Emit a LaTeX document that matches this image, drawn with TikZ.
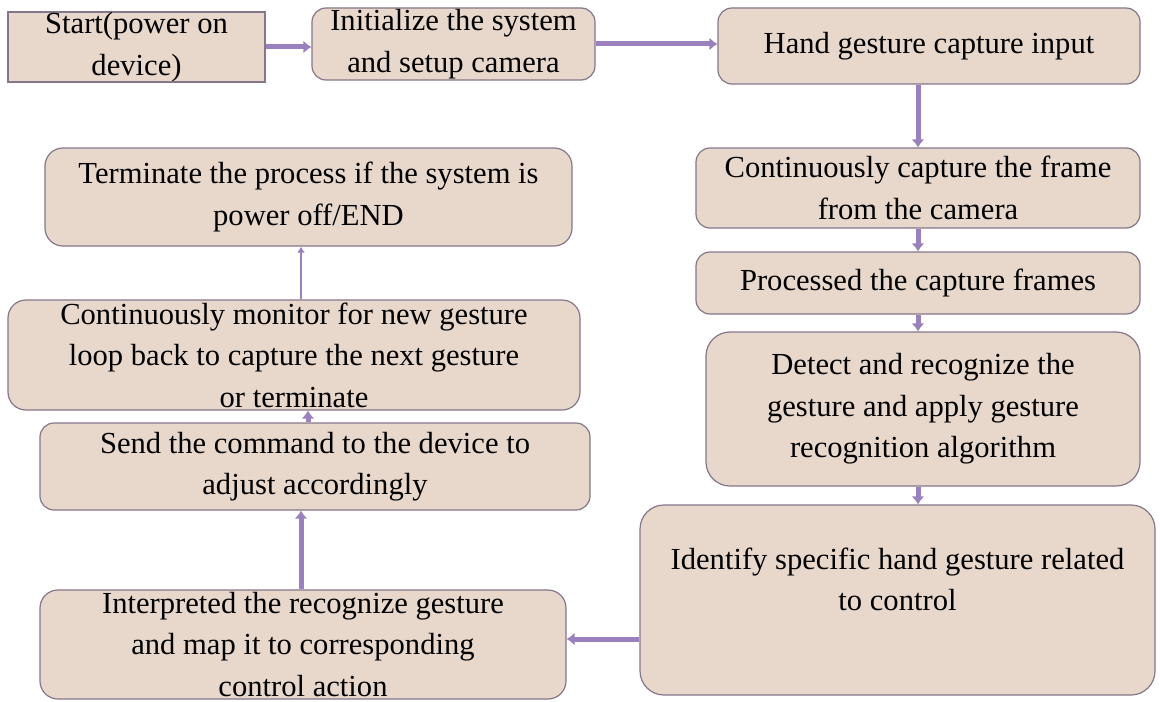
\documentclass[tikz,border=0pt]{standalone}
\usepackage{fontspec}
\setmainfont{Liberation Serif}
\usepackage{xcolor}
\usetikzlibrary{arrows.meta}

\definecolor{boxfill}{HTML}{E8D8CC}
\definecolor{boxline}{HTML}{857689}
\definecolor{flowpurple}{HTML}{9A80BD}

\begin{document}
\begin{tikzpicture}[x=0.5pt,y=-0.5pt]
\tikzset{stepbox/.style={draw=boxline,fill=boxfill,line width=0.6pt,rounded corners=7pt,align=center,inner xsep=2pt,inner ysep=0pt}}
\tikzset{flow/.style={draw=flowpurple,line width=2.5pt,-{Latex[length=4pt,width=6.5pt]}}}
\tikzset{thinflow/.style={draw=flowpurple,line width=1pt,-{Latex[length=3pt,width=4pt]}}}

\fontsize{15.3}{20.8}\selectfont

\useasboundingbox (0,0) rectangle (1160,701);

\node[stepbox,rounded corners=0pt,minimum width=128.5pt,minimum height=35pt] (start) at (136.5,47) {Start(power on\\ device)};
\node[stepbox,minimum width=141.5pt,minimum height=36pt] (init) at (453.5,44) {Initialize the system\\ and setup camera};
\node[stepbox,minimum width=211pt,minimum height=38pt] (hand) at (929,46) {Hand gesture capture input};
\node[stepbox,minimum width=222pt,minimum height=40pt] (cont) at (918,188) {Continuously capture the frame\\ from the camera};
\node[stepbox,minimum width=222pt,minimum height=31pt] (proc) at (918,283) {Processed the capture frames};
\node[stepbox,rounded corners=12pt,minimum width=217pt,minimum height=77pt] (detect) at (923,409) {Detect and recognize the\\ gesture and apply gesture\\ recognition algorithm};
\node[stepbox,rounded corners=12pt,minimum width=257.5pt,minimum height=95pt] (ident) at (897.5,600) {Identify specific hand gesture related\\ to control\\ \mbox{}};
\node[stepbox,rounded corners=9pt,minimum width=263pt,minimum height=54.5pt] (interp) at (303,644.5) {Interpreted the recognize gesture\\ and map it to corresponding\\ control action};
\node[stepbox,minimum width=275pt,minimum height=43.5pt] (send) at (315,466.5) {Send the command to the device to\\ adjust accordingly};
\node[stepbox,rounded corners=9pt,minimum width=286pt,minimum height=55pt] (monitor) at (294,355) {Continuously monitor for new gesture\\ loop back to capture the next gesture\\ or terminate};
\node[stepbox,rounded corners=9pt,minimum width=263.5pt,minimum height=49pt] (term) at (308.5,197) {Terminate the process if the system is\\ power off/END};

\draw[flow] (start.east) -- (start.east -| init.west);
\draw[flow] (init.east) -- (init.east -| hand.west);
\draw[flow] (cont.north |- hand.south) -- (cont.north);
\draw[flow] (cont.south) -- (proc.north);
\draw[flow] (proc.south) -- (proc.south |- detect.north);
\draw[flow] (proc.south |- detect.south) -- (proc.south |- ident.north);
\draw[flow] ([yshift=2.75pt]ident.west |- interp.east) -- ([yshift=2.75pt]interp.east);
\draw[flow] ([xshift=-1pt]interp.north) -- ([xshift=-1pt]interp.north |- send.south);
\draw[flow] ([xshift=-3.5pt]send.north) -- ([xshift=-3.5pt]send.north |- monitor.south);
\draw[thinflow] ([xshift=3.5pt]monitor.north) -- ([xshift=3.5pt]monitor.north |- term.south);

\end{tikzpicture}
\end{document}
